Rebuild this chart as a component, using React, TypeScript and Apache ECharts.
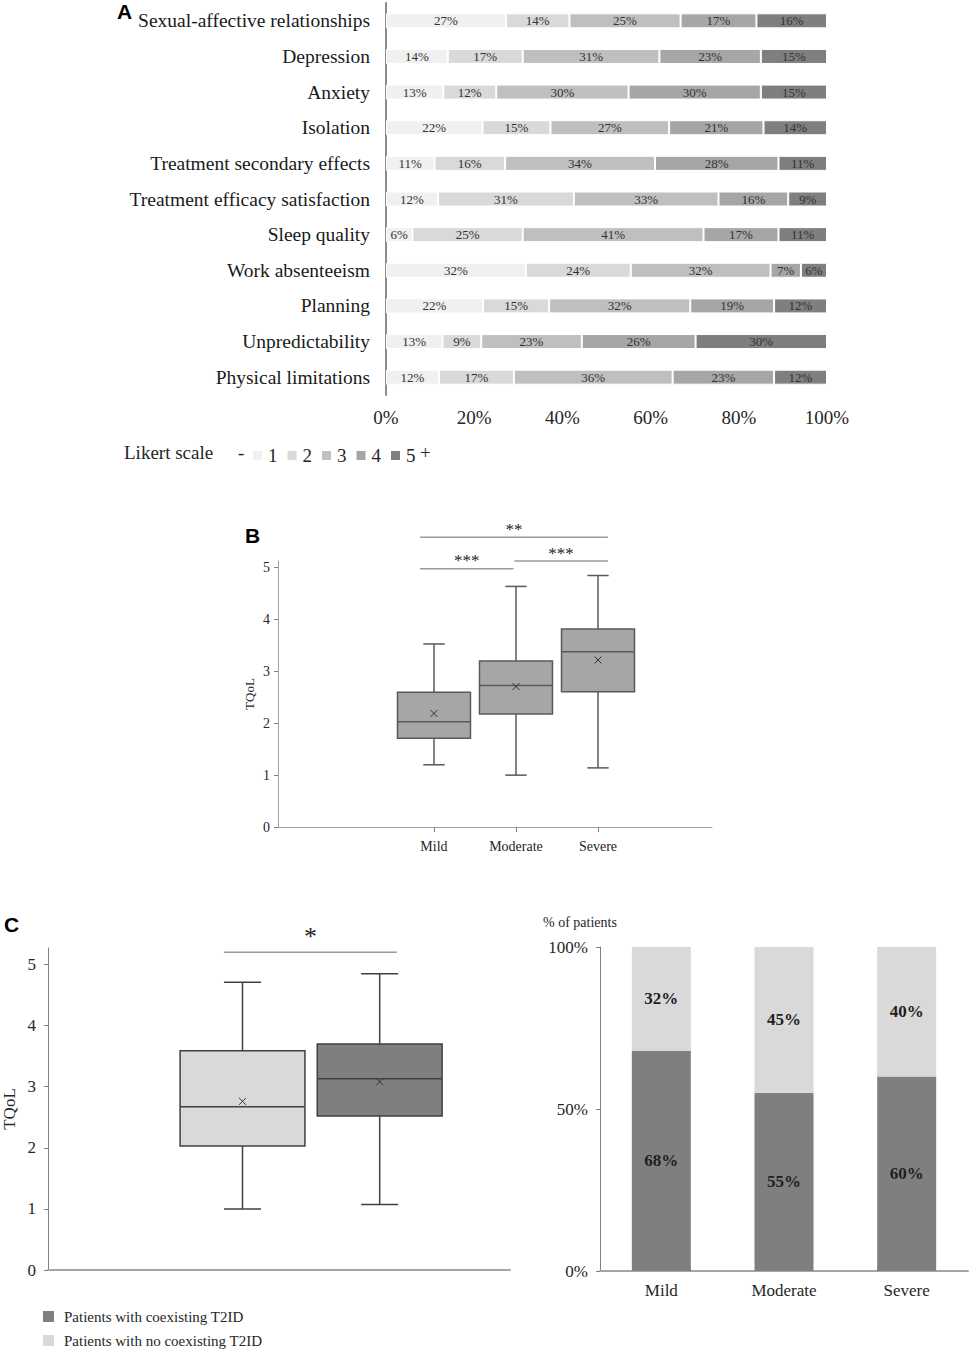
import { useEffect, useRef } from 'react';
import * as echarts from 'echarts';

// ---------- Panel A data (segment shares; labels show rounded values) ----------
const likertCategories = [
  'Sexual-affective relationships',
  'Depression',
  'Anxiety',
  'Isolation',
  'Treatment secondary effects',
  'Treatment efficacy satisfaction',
  'Sleep quality',
  'Work absenteeism',
  'Planning',
  'Unpredictability',
  'Physical limitations',
];
const likert1 = [27.2, 14, 13, 21.9, 11, 11.8, 6, 31.7, 22, 12.8, 12];
const likert2 = [14.4, 17, 12, 15.4, 16, 30.8, 25, 23.8, 15, 8.8, 17];
const likert3 = [25.2, 31, 30, 26.9, 34, 32.8, 41, 31.7, 32, 22.8, 36];
const likert4 = [17.2, 23, 30, 21.4, 28, 15.8, 17, 6.9, 19, 25.8, 23];
const likert5 = [16.0, 15, 15, 14.4, 11, 8.8, 11, 5.9, 12, 29.8, 12];
const likertLevels = ['1', '2', '3', '4', '5'];
const likertColors = ['#f0f0f0', '#d9d9d9', '#bfbfbf', '#a6a6a6', '#7f7f7f'];

// ---------- Panel B data ----------
const severityCategories = ['Mild', 'Moderate', 'Severe'];
const bMin = [1.2, 1.0, 1.14];
const bQ1 = [1.71, 2.18, 2.61];
const bMedian = [2.03, 2.73, 3.38];
const bQ3 = [2.6, 3.2, 3.82];
const bMax = [3.53, 4.64, 4.85];
const bMean = [2.19, 2.71, 3.22];
const tqolTicks = [0, 1, 2, 3, 4, 5];
const bSignificance = [
  { from: -0.17, to: 2.12, y: 5.59, label: '**' },
  { from: -0.17, to: 0.97, y: 4.98, label: '***' },
  { from: 0.98, to: 2.12, y: 5.13, label: '***' },
];

// ---------- Panel C data ----------
const t2idGroups = ['Patients with no coexisting T2ID', 'Patients with coexisting T2ID'];
const cMin = [1.0, 1.07];
const cQ1 = [2.03, 2.52];
const cMedian = [2.67, 3.13];
const cQ3 = [3.59, 3.7];
const cMax = [4.71, 4.85];
const cMean = [2.76, 3.08];
const cSignificance = [{ from: -0.135, to: 1.125, y: 5.2, label: '*' }];

const withT2id = [68, 55, 60];
const withoutT2id = [32, 45, 40];

const SERIF = 'Liberation Serif';
const SANS = 'Liberation Sans';

function boxRender(boxFrac: number, capFrac: number, fills: string[], stroke: string) {
  return (params: any, api: any) => {
    const x = api.value(0);
    const idx = params.dataIndex;
    const pMin = api.coord([x, api.value(1)]);
    const pQ1 = api.coord([x, api.value(2)]);
    const pMed = api.coord([x, api.value(3)]);
    const pQ3 = api.coord([x, api.value(4)]);
    const pMax = api.coord([x, api.value(5)]);
    const pMean = api.coord([x, api.value(6)]);
    const unit = api.size([1, 0])[0];
    const bw = unit * boxFrac;
    const cw = unit * capFrac;
    const cx = pMed[0];
    const ls = { stroke, lineWidth: 1.5 };
    const s = 3.5;
    return {
      type: 'group',
      children: [
        { type: 'line', shape: { x1: cx, y1: pMax[1], x2: cx, y2: pQ3[1] }, style: ls },
        { type: 'line', shape: { x1: cx, y1: pQ1[1], x2: cx, y2: pMin[1] }, style: ls },
        { type: 'line', shape: { x1: cx - cw / 2, y1: pMax[1], x2: cx + cw / 2, y2: pMax[1] }, style: ls },
        { type: 'line', shape: { x1: cx - cw / 2, y1: pMin[1], x2: cx + cw / 2, y2: pMin[1] }, style: ls },
        {
          type: 'rect',
          shape: { x: cx - bw / 2, y: pQ3[1], width: bw, height: pQ1[1] - pQ3[1] },
          style: { fill: fills[idx % fills.length], stroke, lineWidth: 1.5 },
        },
        { type: 'line', shape: { x1: cx - bw / 2, y1: pMed[1], x2: cx + bw / 2, y2: pMed[1] }, style: ls },
        { type: 'line', shape: { x1: pMean[0] - s, y1: pMean[1] - s, x2: pMean[0] + s, y2: pMean[1] + s }, style: { stroke: '#333', lineWidth: 1 } },
        { type: 'line', shape: { x1: pMean[0] - s, y1: pMean[1] + s, x2: pMean[0] + s, y2: pMean[1] - s }, style: { stroke: '#333', lineWidth: 1 } },
      ],
    };
  };
}

export default function App() {
  const ref = useRef<HTMLDivElement>(null);

  useEffect(() => {
    if (!ref.current) return;
    const chart = echarts.init(ref.current, undefined, { renderer: 'svg' });

    const likertData = [likert1, likert2, likert3, likert4, likert5];
    const likertSeries = likertLevels.map((lvl, i) => ({
      name: lvl,
      type: 'bar',
      stack: 'likert',
      xAxisIndex: 0,
      yAxisIndex: 0,
      barWidth: 15,
      data: likertData[i],
      itemStyle: { color: likertColors[i], borderColor: '#ffffff', borderWidth: 1 },
      label: {
        show: true,
        position: 'inside',
        formatter: (p: any) => `${Math.round(p.value)}%`,
        fontFamily: SERIF,
        fontSize: 13,
        color: '#333333',
      },
    }));

    const bData = severityCategories.map((_, i) => [i, bMin[i], bQ1[i], bMedian[i], bQ3[i], bMax[i], bMean[i]]);
    const cData = t2idGroups.map((_, i) => [i, cMin[i], cQ1[i], cMedian[i], cQ3[i], cMax[i], cMean[i]]);

    const option: any = {
      animation: false,
      textStyle: { fontFamily: SERIF },
      grid: [
        { left: 386, top: 3, width: 441, height: 392 },
        { left: 278, top: 561, width: 434, height: 266 },
        { left: 43, top: 948, width: 467, height: 322 },
        { left: 600, top: 947, width: 368, height: 324 },
      ],
      xAxis: [
        {
          gridIndex: 0,
          type: 'value',
          min: 0,
          max: 100,
          interval: 20,
          axisLine: { show: false },
          axisTick: { show: false },
          splitLine: { show: false },
          axisLabel: { formatter: '{value}%', fontSize: 19, color: '#262626', margin: 13, fontFamily: SERIF },
        },
        {
          gridIndex: 1,
          type: 'value',
          min: -1.902,
          max: 3.39,
          axisLine: { show: true, onZero: false, lineStyle: { color: '#a0a0a0', width: 1 } },
          axisTick: { show: true, customValues: [0, 1, 2], length: 5, lineStyle: { color: '#808080' } },
          splitLine: { show: false },
          axisLabel: {
            customValues: [0, 1, 2],
            formatter: (v: number) => severityCategories[Math.round(v)] ?? '',
            fontSize: 14,
            color: '#262626',
            margin: 12,
            fontFamily: SERIF,
          },
        },
        {
          gridIndex: 2,
          type: 'value',
          min: -1.418,
          max: 1.95,
          axisLine: { show: true, onZero: false, lineStyle: { color: '#a6a6a6', width: 2 } },
          axisTick: { show: false },
          splitLine: { show: false },
          axisLabel: { show: false },
        },
        {
          gridIndex: 3,
          type: 'category',
          data: severityCategories,
          axisLine: { show: true, onZero: false, lineStyle: { color: '#a6a6a6', width: 2 } },
          axisTick: { show: false },
          axisLabel: { fontSize: 17, color: '#262626', margin: 11, fontFamily: SERIF },
        },
      ],
      yAxis: [
        {
          gridIndex: 0,
          type: 'category',
          data: likertCategories,
          inverse: true,
          axisLine: { show: true, onZero: false, lineStyle: { color: '#8c8c8c', width: 2 } },
          axisTick: { show: false },
          axisLabel: { fontSize: 19.5, color: '#1a1a1a', margin: 16, fontFamily: SERIF },
        },
        {
          gridIndex: 1,
          type: 'value',
          min: 0,
          max: 5.13,
          name: 'TQoL',
          nameLocation: 'middle',
          nameRotate: 90,
          nameGap: 22,
          nameTextStyle: { fontSize: 13, color: '#262626', fontFamily: SERIF },
          axisLine: { show: true, onZero: false, lineStyle: { color: '#a0a0a0', width: 1 } },
          axisTick: { show: true, customValues: tqolTicks, length: 4, lineStyle: { color: '#808080' } },
          splitLine: { show: false },
          axisLabel: { customValues: tqolTicks, fontSize: 14, color: '#262626', margin: 8, fontFamily: SERIF },
        },
        {
          gridIndex: 2,
          type: 'value',
          min: 0,
          max: 5.27,
          name: 'TQoL',
          nameLocation: 'middle',
          nameRotate: 90,
          nameGap: 30,
          nameTextStyle: { fontSize: 17, color: '#262626', fontFamily: SERIF },
          axisLine: { show: true, onZero: false, lineStyle: { color: '#808080', width: 1 } },
          axisTick: { show: true, customValues: tqolTicks, length: 4, lineStyle: { color: '#808080' } },
          splitLine: { show: false },
          axisLabel: { customValues: tqolTicks, fontSize: 17, color: '#262626', margin: 12, fontFamily: SERIF },
        },
        {
          gridIndex: 3,
          type: 'value',
          min: 0,
          max: 100,
          interval: 50,
          axisLine: { show: true, onZero: false, lineStyle: { color: '#808080', width: 1 } },
          axisTick: { show: true, length: 4, lineStyle: { color: '#808080' } },
          splitLine: { show: false },
          axisLabel: { formatter: '{value}%', fontSize: 17, color: '#262626', margin: 12, fontFamily: SERIF },
        },
      ],
      legend: [
        {
          data: likertLevels,
          left: 251,
          top: 446,
          orient: 'horizontal',
          itemWidth: 11,
          itemHeight: 11,
          itemGap: 8,
          padding: 0,
          icon: 'rect',
          textStyle: { fontSize: 19, color: '#262626', fontFamily: SERIF },
        },
        {
          data: ['Patients with coexisting T2ID', 'Patients with no coexisting T2ID'],
          left: 43,
          top: 1309,
          orient: 'vertical',
          itemWidth: 11,
          itemHeight: 11,
          itemGap: 9,
          padding: 0,
          icon: 'rect',
          textStyle: { fontSize: 15, color: '#262626', fontFamily: SERIF, padding: [0, 0, 0, 5] },
        },
      ],
      series: [
        ...likertSeries,
        {
          name: 'TQoL by severity',
          type: 'custom',
          xAxisIndex: 1,
          yAxisIndex: 1,
          data: bData,
          encode: { x: 0, y: [1, 2, 3, 4, 5, 6] },
          renderItem: boxRender(0.89, 0.26, ['#a6a6a6'], '#595959'),
        },
        {
          name: 'TQoL by T2ID',
          type: 'custom',
          xAxisIndex: 2,
          yAxisIndex: 2,
          data: cData,
          encode: { x: 0, y: [1, 2, 3, 4, 5, 6] },
          renderItem: boxRender(0.91, 0.27, ['#d9d9d9', '#7f7f7f'], '#404040'),
        },
        {
          name: 'Patients with coexisting T2ID',
          type: 'bar',
          stack: 't2id',
          xAxisIndex: 3,
          yAxisIndex: 3,
          barWidth: 59,
          data: withT2id,
          itemStyle: { color: '#7f7f7f' },
          label: {
            show: true,
            position: 'inside',
            formatter: '{c}%',
            fontSize: 17,
            fontWeight: 'bold',
            color: '#1f1f1f',
            fontFamily: SERIF,
          },
        },
        {
          name: 'Patients with no coexisting T2ID',
          type: 'bar',
          stack: 't2id',
          xAxisIndex: 3,
          yAxisIndex: 3,
          barWidth: 59,
          data: withoutT2id,
          itemStyle: { color: '#d9d9d9' },
          label: {
            show: true,
            position: 'inside',
            formatter: '{c}%',
            fontSize: 17,
            fontWeight: 'bold',
            color: '#1f1f1f',
            fontFamily: SERIF,
          },
        },
      ],
    };

    chart.setOption(option);

    const staticGraphics: any[] = [
      { type: 'text', x: 117, y: 1, style: { text: 'A', font: `bold 21px "${SANS}"`, fill: '#000' } },
      { type: 'text', x: 245, y: 525, style: { text: 'B', font: `bold 21px "${SANS}"`, fill: '#000' } },
      { type: 'text', x: 4, y: 914, style: { text: 'C', font: `bold 21px "${SANS}"`, fill: '#000' } },
      { type: 'text', x: 124, y: 443, style: { text: 'Likert scale', font: `19px "${SERIF}"`, fill: '#262626' } },
      { type: 'text', x: 238, y: 443, style: { text: '-', font: `19px "${SERIF}"`, fill: '#262626' } },
      { type: 'text', x: 420, y: 443, style: { text: '+', font: `19px "${SERIF}"`, fill: '#262626' } },
      { type: 'text', x: 543, y: 915, style: { text: '% of patients', font: `14px "${SERIF}"`, fill: '#262626' } },
    ];

    const bracketGraphics: any[] = [];
    const addBrackets = (sig: any[], seriesIndex: number, fontSize: number, textOffset: number) => {
      sig.forEach((s) => {
        const p1 = chart.convertToPixel({ seriesIndex }, [s.from, s.y]) as number[];
        const p2 = chart.convertToPixel({ seriesIndex }, [s.to, s.y]) as number[];
        if (!p1 || !p2) return;
        bracketGraphics.push({
          type: 'line',
          shape: { x1: p1[0], y1: p1[1], x2: p2[0], y2: p2[1] },
          style: { stroke: '#9a9a9a', lineWidth: 1.5 },
        });
        bracketGraphics.push({
          type: 'text',
          x: (p1[0] + p2[0]) / 2,
          y: p1[1] - textOffset,
          style: {
            text: s.label,
            font: `${fontSize}px "${SERIF}"`,
            fill: '#262626',
            align: 'center',
            verticalAlign: 'middle',
          },
        });
      });
    };
    const bIdx = likertLevels.length;
    addBrackets(bSignificance, bIdx, 17, 8);
    addBrackets(cSignificance, bIdx + 1, 26, 16);

    chart.setOption({ graphic: { elements: [...staticGraphics, ...bracketGraphics] } });

    return () => {
      chart.dispose();
    };
  }, []);

  return (
    <div
      ref={ref}
      style={{ position: 'absolute', left: 0, top: 0, width: 970, height: 1353, background: '#ffffff' }}
    />
  );
}
